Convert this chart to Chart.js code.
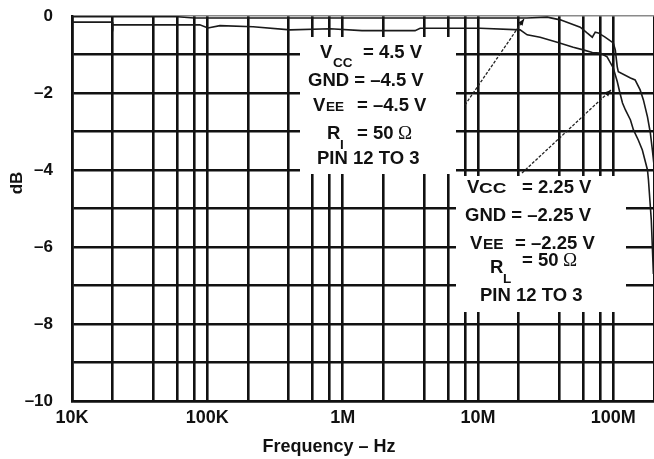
<!DOCTYPE html>
<html>
<head>
<meta charset="utf-8">
<script src="https://cdn.jsdelivr.net/npm/chart.js@4.4.0/dist/chart.umd.min.js"></script>
<style>
  html, body { margin: 0; padding: 0; background: #fff; }
  canvas { display: block; }
</style>
</head>
<body>
<canvas id="chart" width="654" height="459"></canvas>
<script>
// ON-channel frequency response

// VCC = 4.5 V curve
const freqA = [1e4, 6e4, 8e4, 1e6, 1e7, 2.3e7, 3.25e7, 4.06e7, 5.7e7, 6.4e7, 7.0e7, 7.36e7, 7.75e7, 8.7e7,
  1.0e8, 1.035e8, 1.07e8, 1.09e8, 1.34e8, 1.45e8, 1.58e8, 1.67e8, 1.79e8, 1.88e8, 1.945e8, 2.0e8];
const dbA = [-0.02, -0.02, -0.05, -0.05, -0.05, -0.05, -0.03, -0.1, -0.29, -0.44, -0.55, -0.42, -0.44, -0.55,
  -0.7, -0.88, -1.32, -1.45, -1.61, -1.66, -1.92, -2.18, -2.62, -3.04, -3.48, -3.87];

// VCC = 2.25 V curve
const freqB = [1e4, 1.98e4, 2.0e4, 8.8e4, 1.01e5, 1.24e5, 2.18e5, 4.09e5, 8.09e5, 1.39e6, 3.43e6, 3.74e6,
  1.04e7, 2.05e7, 2.31e7, 2.88e7, 3.85e7, 5.06e7, 6.0e7, 7.0e7, 8.0e7, 9.0e7, 1.0e8, 1.07e8, 1.12e8,
  1.17e8, 1.23e8, 1.34e8, 1.41e8, 1.53e8, 1.64e8, 1.79e8, 1.82e8, 1.91e8, 1.98e8];
const dbB = [-0.16, -0.16, -0.23, -0.23, -0.31, -0.25, -0.28, -0.36, -0.33, -0.38, -0.38, -0.32,
  -0.32, -0.36, -0.49, -0.55, -0.68, -0.81, -0.88, -0.95, -0.96, -1.06, -1.35, -1.7, -2.0,
  -2.26, -2.44, -2.7, -2.96, -3.22, -3.48, -4.0, -4.26, -5.3, -6.7];

// axes
const gridFreqs = [1e4, 2e4, 4e4, 6e4, 8e4, 1e5, 2e5, 4e5, 6e5, 8e5, 1e6, 2e6, 4e6, 6e6, 8e6,
  1e7, 2e7, 4e7, 6e7, 8e7, 1e8, 2e8];
const decadeFreqs = [1e4, 1e5, 1e6, 1e7, 1e8];
const decadeLabels = ['10K', '100K', '1M', '10M', '100M'];
const dbLabelValues = [0, -2, -4, -6, -8, -10];
const dbLabels = ['0', '–2', '–4', '–6', '–8', '–10'];

const SANS = '"Liberation Sans", Arial, Helvetica, sans-serif';
const SERIF = '"Liberation Serif", "Times New Roman", serif';
const INK = '#111';

function toPoints(xs, ys) {
  return xs.map((x, i) => ({ x: x, y: ys[i] }));
}

function put(ctx, s, x, y, size, weight, family) {
  ctx.font = (weight || 'bold') + ' ' + size + 'px ' + (family || SANS);
  ctx.fillText(s, x, y);
}

// the scan's small-caps are drawn a bit wide
function putWide(ctx, s, x, y, size, stretch) {
  ctx.save();
  ctx.translate(x, y);
  ctx.scale(stretch, 1);
  put(ctx, s, 0, 0, size);
  ctx.restore();
}

function arrow(ctx, x1, y1, x2, y2) {
  ctx.save();
  ctx.strokeStyle = '#222';
  ctx.lineWidth = 1.3;
  ctx.setLineDash([3, 1.6]);
  ctx.beginPath();
  ctx.moveTo(x1, y1);
  ctx.lineTo(x2, y2);
  ctx.stroke();
  ctx.setLineDash([]);
  const a = Math.atan2(y2 - y1, x2 - x1);
  ctx.fillStyle = '#111';
  ctx.beginPath();
  ctx.moveTo(x2, y2);
  ctx.lineTo(x2 - 7 * Math.cos(a - 0.4), y2 - 7 * Math.sin(a - 0.4));
  ctx.lineTo(x2 - 7 * Math.cos(a + 0.4), y2 - 7 * Math.sin(a + 0.4));
  ctx.closePath();
  ctx.fill();
  ctx.restore();
}

// no extra label padding, so the plot area sits where the scan has it
function tightFit(scale) {
  scale.paddingTop = 0;
  scale.paddingBottom = 0;
  scale.paddingLeft = 0;
  scale.paddingRight = 0;
}

// white label boxes over the grid, text, arrows and axis titles
const notesPlugin = {
  id: 'notes',
  beforeDatasetsDraw(chart) {
    const ctx = chart.ctx;
    ctx.save();
    ctx.fillStyle = '#fff';
    ctx.fillRect(300, 37, 156, 137);
    ctx.fillRect(456, 176, 170, 136);
    ctx.restore();
  },
  afterDatasetsDraw(chart) {
    const ctx = chart.ctx;
    ctx.save();
    arrow(ctx, 465, 105, 524, 19);
    arrow(ctx, 522, 173, 611, 90);

    ctx.fillStyle = INK;
    ctx.textAlign = 'left';
    ctx.textBaseline = 'alphabetic';

    // box 1
    put(ctx, 'V', 320, 58, 18.5);
    put(ctx, 'CC', 333, 67, 13.5);
    put(ctx, '= 4.5 V', 363, 58, 18.5);
    put(ctx, 'GND = –4.5 V', 308, 86, 18.5);
    put(ctx, 'V', 313, 111, 18.5);
    put(ctx, 'EE', 326, 111, 13.5);
    put(ctx, '= –4.5 V', 357, 111, 18.5);
    put(ctx, 'R', 327, 139, 18.5);
    put(ctx, 'I', 340, 149, 13.5);
    put(ctx, '= 50', 357, 139, 18.5);
    put(ctx, 'Ω', 398, 139, 19, 'normal', SERIF);
    put(ctx, 'PIN 12 TO 3', 317, 164, 18.5);

    // box 2
    put(ctx, 'V', 467, 193, 18.5);
    putWide(ctx, 'CC', 479, 193, 14, 1.35);
    put(ctx, '= 2.25 V', 522, 193, 18.5);
    put(ctx, 'GND = –2.25 V', 465, 221, 18.5);
    put(ctx, 'V', 470, 249, 18.5);
    putWide(ctx, 'EE', 483, 249, 14, 1.1);
    put(ctx, '= –2.25 V', 515, 249, 18.5);
    put(ctx, 'R', 490, 273, 18.5);
    put(ctx, 'L', 503, 283, 13.5);
    put(ctx, '= 50', 522, 266, 18.5);
    put(ctx, 'Ω', 563, 266, 19, 'normal', SERIF);
    put(ctx, 'PIN 12 TO 3', 480, 301, 18.5);

    // axis titles
    ctx.textAlign = 'center';
    put(ctx, 'Frequency – Hz', 329, 452, 18);
    ctx.translate(17, 183);
    ctx.rotate(-Math.PI / 2);
    ctx.textBaseline = 'middle';
    put(ctx, 'dB', 0, 0, 17);
    ctx.restore();
  }
};

new Chart(document.getElementById('chart'), {
  type: 'line',
  data: {
    datasets: [
      {
        label: 'VCC = 4.5 V',
        data: toPoints(freqA, dbA),
        borderColor: '#1a1a1a',
        borderWidth: 1.6,
        pointRadius: 0,
        fill: false,
        tension: 0
      },
      {
        label: 'VCC = 2.25 V',
        data: toPoints(freqB, dbB),
        borderColor: '#1a1a1a',
        borderWidth: 1.6,
        pointRadius: 0,
        fill: false,
        tension: 0
      }
    ]
  },
  options: {
    responsive: false,
    animation: false,
    layout: { padding: { top: 16, right: 0, left: 0, bottom: 0 } },
    plugins: {
      legend: { display: false },
      tooltip: { enabled: false }
    },
    scales: {
      x: {
        type: 'logarithmic',
        min: 1e4,
        max: 2e8,
        afterBuildTicks: (axis) => {
          axis.ticks = gridFreqs.map((v) => ({ value: v }));
        },
        afterFit: (scale) => { scale.height = 58; tightFit(scale); },
        ticks: {
          autoSkip: false,
          maxRotation: 0,
          padding: 6,
          color: INK,
          font: { family: SANS, size: 18, weight: 'bold' },
          callback: (value) => {
            const i = decadeFreqs.indexOf(value);
            return i >= 0 ? decadeLabels[i] : '';
          }
        },
        grid: { color: INK, lineWidth: 2.6, drawTicks: false },
        border: { color: INK, width: 2.6 }
      },
      y: {
        min: -10,
        max: 0,
        afterBuildTicks: (axis) => {
          const t = [];
          for (let v = -10; v <= 0; v++) t.push({ value: v });
          axis.ticks = t;
        },
        afterFit: (scale) => { scale.width = 72; tightFit(scale); },
        ticks: {
          autoSkip: false,
          padding: 19,
          color: INK,
          font: { family: SANS, size: 17, weight: 'bold' },
          callback: (value) => {
            const i = dbLabelValues.indexOf(value);
            return i >= 0 ? dbLabels[i] : '';
          }
        },
        grid: {
          color: (c) => (c.tick && c.tick.value === 0 ? '#8a8a8a' : INK),
          lineWidth: (c) => (c.tick && c.tick.value === 0 ? 1.6 : 2.6),
          drawTicks: false
        },
        border: { color: INK, width: 2.6 }
      }
    }
  },
  plugins: [notesPlugin]
});
</script>
</body>
</html>
